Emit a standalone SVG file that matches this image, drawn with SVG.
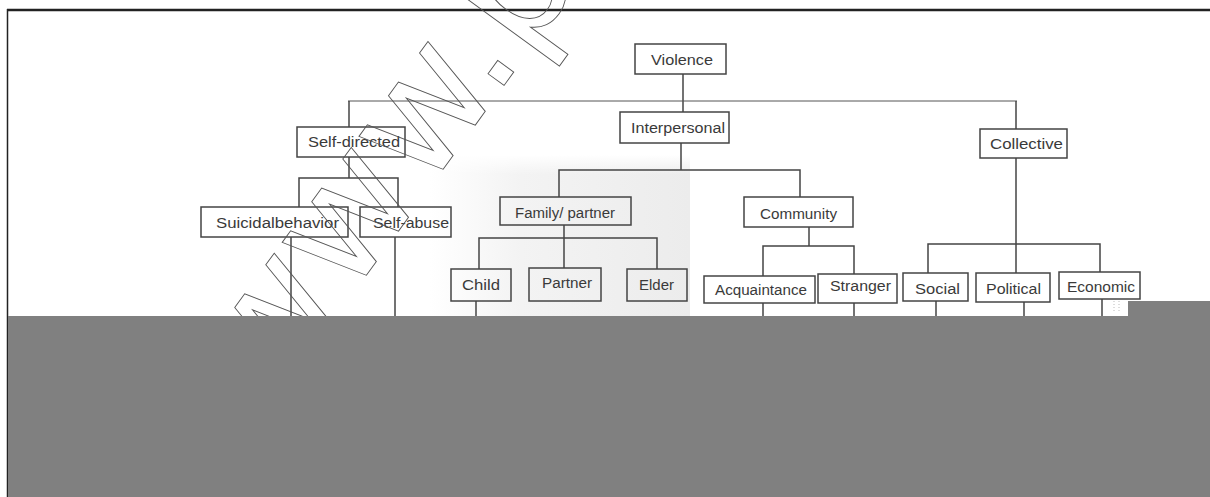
<svg xmlns="http://www.w3.org/2000/svg" width="1210" height="497" viewBox="0 0 1210 497">
<defs>
<linearGradient id="shade" x1="0" y1="0" x2="1" y2="0">
<stop offset="0" stop-color="#ffffff"/>
<stop offset="0.35" stop-color="#f3f3f3"/>
<stop offset="1" stop-color="#ececec"/>
</linearGradient>
<linearGradient id="shadeV" x1="0" y1="0" x2="0" y2="1">
<stop offset="0" stop-color="#ffffff" stop-opacity="1"/>
<stop offset="0.12" stop-color="#ffffff" stop-opacity="0"/>
</linearGradient>
</defs>
<style>
.box{fill:none;stroke:#444;stroke-width:1.5}
.lbl{font-family:"Liberation Sans",Arial,sans-serif;font-size:14px;fill:#3a3a3a;text-anchor:start}
.con{fill:none;stroke:#444;stroke-width:1.5}
.wm{font-family:"DejaVu Sans",sans-serif;font-size:160px;fill:none;stroke:#555;stroke-width:0.9}
</style>
<rect x="0" y="0" width="1210" height="497" fill="#ffffff"/>
<rect x="430" y="155" width="260" height="162" fill="url(#shade)"/>
<rect x="430" y="155" width="260" height="162" fill="url(#shadeV)"/>
<g id="frame">
<line x1="7" y1="10" x2="1210" y2="10" stroke="#222" stroke-width="2.5"/>
<line x1="7.5" y1="9" x2="7.5" y2="497" stroke="#222" stroke-width="1.5"/>
</g>
<g id="connectors">
<line x1="683" y1="74" x2="683" y2="112" class="con"/>
<line x1="348" y1="101" x2="1017" y2="101" stroke="#555" stroke-width="1"/>
<line x1="349" y1="101" x2="349" y2="127" class="con"/>
<line x1="1016" y1="101" x2="1016" y2="129" class="con"/>
<line x1="349" y1="157" x2="349" y2="178" class="con"/>
<polyline points="299,207 299,178 398,178 398,207" class="con"/>
<line x1="291" y1="237" x2="291" y2="317" class="con"/>
<line x1="395" y1="237" x2="395" y2="317" class="con"/>
<line x1="681" y1="143" x2="681" y2="170" class="con"/>
<polyline points="559,197 559,170 800,170 800,197" class="con"/>
<line x1="564" y1="225" x2="564" y2="268" class="con"/>
<polyline points="479,269 479,238 657,238 657,269" class="con"/>
<line x1="476" y1="301" x2="476" y2="317" class="con"/>
<line x1="809" y1="227" x2="809" y2="246" class="con"/>
<polyline points="763,276 763,246 854,246 854,274" class="con"/>
<line x1="763" y1="303" x2="763" y2="317" class="con"/>
<line x1="854" y1="303" x2="854" y2="317" class="con"/>
<line x1="1016" y1="158" x2="1016" y2="273" class="con"/>
<polyline points="928,273 928,244 1100,244 1100,272" class="con"/>
<line x1="936" y1="301" x2="936" y2="317" class="con"/>
<line x1="1024" y1="302" x2="1024" y2="317" class="con"/>
<line x1="1102" y1="299" x2="1102" y2="317" class="con"/>
</g>
<g id="n-violence"><rect x="635" y="44" width="91" height="30" class="box"/><text x="651" y="65" class="lbl" textLength="62" lengthAdjust="spacingAndGlyphs">Violence</text></g>
<g id="n-interpersonal"><rect x="620" y="112" width="109" height="31" class="box"/><text x="631" y="133" class="lbl" textLength="94" lengthAdjust="spacingAndGlyphs">Interpersonal</text></g>
<g id="n-selfdirected"><rect x="297" y="127" width="108" height="30" class="box"/><text x="308" y="147" class="lbl" textLength="92" lengthAdjust="spacingAndGlyphs">Self-directed</text></g>
<g id="n-collective"><rect x="980" y="129" width="87" height="29" class="box"/><text x="990" y="149" class="lbl" textLength="73" lengthAdjust="spacingAndGlyphs">Collective</text></g>
<g id="n-suicidal"><rect x="201" y="207" width="147" height="30" class="box"/><text x="216" y="228" class="lbl" textLength="123" lengthAdjust="spacingAndGlyphs">Suicidalbehavior</text></g>
<g id="n-selfabuse"><rect x="360" y="207" width="91" height="30" class="box"/><text x="373" y="228" class="lbl" textLength="76" lengthAdjust="spacingAndGlyphs">Self-abuse</text></g>
<g id="n-family"><rect x="500" y="197" width="131" height="28" class="box"/><text x="515" y="218" class="lbl" textLength="100" lengthAdjust="spacingAndGlyphs">Family/ partner</text></g>
<g id="n-child"><rect x="451" y="269" width="60" height="32" class="box"/><text x="462" y="290" class="lbl" textLength="38" lengthAdjust="spacingAndGlyphs">Child</text></g>
<g id="n-partner"><rect x="529" y="268" width="72" height="33" class="box"/><text x="542" y="288" class="lbl" textLength="50" lengthAdjust="spacingAndGlyphs">Partner</text></g>
<g id="n-elder"><rect x="627" y="269" width="60" height="32" class="box"/><text x="639" y="290" class="lbl" textLength="35" lengthAdjust="spacingAndGlyphs">Elder</text></g>
<g id="n-community"><rect x="744" y="197" width="109" height="30" class="box"/><text x="760" y="219" class="lbl" textLength="77" lengthAdjust="spacingAndGlyphs">Community</text></g>
<g id="n-acquaintance"><rect x="704" y="276" width="111" height="27" class="box"/><text x="715" y="295" class="lbl" textLength="92" lengthAdjust="spacingAndGlyphs">Acquaintance</text></g>
<g id="n-stranger"><rect x="818" y="274" width="79" height="29" class="box"/><text x="830" y="291" class="lbl" textLength="61" lengthAdjust="spacingAndGlyphs">Stranger</text></g>
<g id="n-social"><rect x="903" y="273" width="65" height="28" class="box"/><text x="915" y="294" class="lbl" textLength="45" lengthAdjust="spacingAndGlyphs">Social</text></g>
<g id="n-political"><rect x="976" y="273" width="74" height="29" class="box"/><text x="986" y="294" class="lbl" textLength="55" lengthAdjust="spacingAndGlyphs">Political</text></g>
<g id="n-economic"><rect x="1059" y="272" width="81" height="27" class="box"/><text x="1067" y="292" class="lbl" textLength="68" lengthAdjust="spacingAndGlyphs">Economic</text></g>
<g id="watermark">
<text class="wm" transform="translate(272,405) rotate(-54)">www.p</text>
</g>
<g id="mask">
<rect x="8" y="316" width="1202" height="181" fill="#808080"/>
<rect x="1128" y="301" width="82" height="16" fill="#808080"/>
<line x1="1114" y1="301" x2="1114" y2="313" stroke="#bbb" stroke-width="1" stroke-dasharray="1,2"/>
<line x1="1119" y1="301" x2="1119" y2="313" stroke="#bbb" stroke-width="1" stroke-dasharray="1,2"/>
</g>
</svg>
